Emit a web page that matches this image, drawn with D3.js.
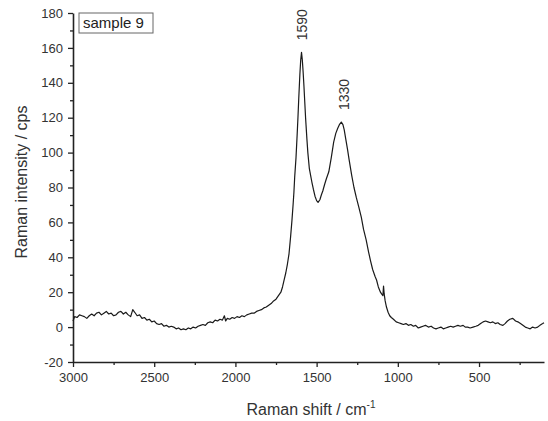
<!DOCTYPE html>
<html>
<head>
<meta charset="utf-8">
<script src="https://cdn.jsdelivr.net/npm/d3@7"></script>
<style>
  body { margin: 0; background: #fff; }
  svg { display: block; font-family: "Liberation Sans", Arial, sans-serif; }
</style>
</head>
<body>
<svg id="chart" width="548" height="421"></svg>
<script>
// Raman shift (cm-1) and intensity (cps)
const shift = [
  3000, 2990, 2975, 2960, 2945, 2930, 2915, 2900, 2885, 2870,
  2855, 2840, 2825, 2810, 2795, 2780, 2765, 2750, 2735, 2720,
  2705, 2690, 2675, 2660, 2645, 2632, 2620, 2605, 2590, 2575,
  2560, 2545, 2530, 2515, 2500, 2485, 2470, 2455, 2440, 2425,
  2410, 2395, 2380, 2365, 2350, 2335, 2320, 2305, 2290, 2275,
  2260, 2245, 2230, 2215, 2200, 2185, 2170, 2155, 2140, 2125,
  2110, 2095, 2080, 2068, 2060, 2050, 2035, 2020, 2005, 1990,
  1975, 1960, 1945, 1930, 1915, 1900, 1885, 1870, 1855, 1840,
  1825, 1810, 1795, 1780, 1765, 1750, 1735, 1720, 1710, 1700,
  1690, 1680, 1670, 1660, 1652, 1645, 1640, 1635, 1627, 1620,
  1615, 1610, 1603, 1598, 1593, 1588, 1583, 1578, 1573, 1568,
  1560, 1554, 1545, 1535, 1529, 1520, 1510, 1500, 1491, 1480,
  1470, 1462, 1450, 1440, 1425, 1410, 1395, 1382, 1370, 1360,
  1348, 1338, 1330, 1321, 1310, 1300, 1284, 1270, 1255, 1241,
  1225, 1211, 1195, 1180, 1168, 1155, 1140, 1131, 1120, 1107,
  1100, 1092, 1088, 1084, 1078, 1070, 1060, 1050, 1040, 1027,
  1010, 995, 980, 966, 950, 935, 920, 904, 890, 874,
  860, 845, 830, 812, 795, 780, 765, 751, 735, 720,
  705, 690, 675, 659, 645, 630, 615, 598, 585, 570,
  555, 537, 520, 505, 490, 475, 460, 445, 430, 415,
  400, 384, 370, 353, 340, 325, 310, 292, 275, 261,
  245, 230, 215, 200, 185, 170, 155, 139, 125, 108,
  100
];
const intensity = [
  3.5, 6, 5.5, 7, 6.5, 6, 5, 6.5, 7.5, 6.5,
  8, 8.5, 7, 8, 9, 7.5, 8, 6.5, 7, 8.5,
  9, 7.5, 8.5, 7, 6, 10, 8.5, 6.5, 7, 5,
  5.5, 4, 4.5, 3, 3.5, 2, 1.5, 2, 0.5, 1,
  0, 0.5, 0, -1, -0.5, -1.5, -1, -1.5, -0.5, -1,
  0, -0.5, 0.5, 1, 1.5, 1, 2.5, 3, 2.5, 4,
  3.5, 4.5, 4, 6.5, 3.5, 5, 4.5, 5.5, 5, 6,
  5.5, 6.5, 6, 7, 7.5, 8, 8, 9, 9.5, 10,
  11, 11.5, 12.5, 13.5, 15, 16, 18, 20, 23, 27,
  31, 36, 42, 52, 61, 70, 77, 86, 97, 110,
  120, 131, 145, 153, 157.5, 153, 146, 138, 129, 120,
  108, 100, 91, 86, 83, 79, 75, 72.5, 71.5, 73,
  76, 78, 82, 85, 89, 97, 106, 111, 114, 116,
  117.5, 116, 113, 108, 102, 96, 87, 80, 74, 69,
  63, 56, 50, 43, 38, 33, 29, 27, 23, 20,
  19, 18, 23.5, 19, 15, 11.5, 8.5, 6.5, 5.5, 4.5,
  3, 2.5, 2, 1.5, 2, 1, 1.5, 0.5, 1, -0.5,
  0, 0.5, 1, 0, 0.5, -0.5, -1, -0.5, 0, -1,
  -0.5, 0, 0.5, 0, 0.5, 1, 0.5, 1, 0, 0,
  -0.5, 0, 0.5, 1, 2, 3, 3.5, 3, 2.5, 3,
  2, 2.5, 1.5, 1, 2, 3.5, 4.5, 5, 3.5, 3,
  2, 1, 0, -0.5, -1, 0, -0.5, 0, 1, 2,
  2.5
];

const xTicks = [3000, 2500, 2000, 1500, 1000, 500];
const xMinor = [2750, 2250, 1750, 1250, 750, 250];
const yTicks = [-20, 0, 20, 40, 60, 80, 100, 120, 140, 160, 180];
const yMinor = [-10, 10, 30, 50, 70, 90, 110, 130, 150, 170];

const peakShifts = [1590, 1330];
const peakHeights = [157.5, 117.5];
const sampleName = "sample 9";

const svg = d3.select("#chart");
const mLeft = 73, mRight = 544, mTop = 13, mBottom = 362;

const x = d3.scaleLinear().domain([3000, 100]).range([mLeft, mRight]);
const y = d3.scaleLinear().domain([-20, 180]).range([mBottom, mTop]);

const ink = "#222";
const plain = d => String(d);   // no thousands comma, plain hyphen minus

// axes
svg.append("g")
  .attr("transform", "translate(0," + mBottom + ")")
  .call(d3.axisBottom(x).tickValues(xTicks).tickFormat(plain).tickSize(5).tickSizeOuter(0).tickPadding(6));
svg.append("g")
  .attr("transform", "translate(0," + mBottom + ")")
  .call(d3.axisBottom(x).tickValues(xMinor).tickSize(3).tickFormat(""))
  .call(g => g.select(".domain").remove());

svg.append("g")
  .attr("transform", "translate(" + mLeft + ",0)")
  .call(d3.axisLeft(y).tickValues(yTicks).tickFormat(plain).tickSize(5).tickSizeOuter(0).tickPadding(5));
svg.append("g")
  .attr("transform", "translate(" + mLeft + ",0)")
  .call(d3.axisLeft(y).tickValues(yMinor).tickSize(3).tickFormat(""))
  .call(g => g.select(".domain").remove());

svg.selectAll(".domain").attr("stroke", ink).attr("stroke-width", 1.6);
svg.selectAll(".tick line").attr("stroke", ink).attr("stroke-width", 1.3);
svg.selectAll(".tick text")
  .attr("fill", "#333")
  .style("font-size", "13px")
  .style("font-family", "'Liberation Sans', Arial, sans-serif");

// spectrum
const line = d3.line()
  .x(d => x(d[0]))
  .y(d => y(d[1]));

svg.append("path")
  .datum(d3.zip(shift, intensity))
  .attr("fill", "none")
  .attr("stroke", "#1a1a1a")
  .attr("stroke-width", 1.2)
  .attr("stroke-linejoin", "round")
  .attr("d", line);

// peak labels
svg.selectAll(".peak")
  .data(peakShifts)
  .enter()
  .append("text")
  .attr("class", "peak")
  .attr("transform", (d, i) => "translate(" + (x(d) + 5) + "," + (y(peakHeights[i]) - 12) + ") rotate(-90)")
  .attr("fill", "#333")
  .style("font-size", "14px")
  .text(d => d);

// sample box
svg.append("rect")
  .attr("x", 79).attr("y", 13)
  .attr("width", 74).attr("height", 20)
  .attr("fill", "#fff")
  .attr("stroke", "#666")
  .attr("stroke-width", 1);
svg.append("text")
  .attr("x", 83).attr("y", 28)
  .attr("fill", "#222")
  .style("font-size", "15px")
  .text(sampleName);

// axis titles
svg.append("text")
  .attr("transform", "translate(27,182) rotate(-90)")
  .attr("text-anchor", "middle")
  .attr("fill", "#333")
  .style("font-size", "16px")
  .text("Raman intensity / cps");

const xt = svg.append("text")
  .attr("x", 311).attr("y", 415)
  .attr("text-anchor", "middle")
  .attr("fill", "#333")
  .style("font-size", "16px")
  .text("Raman shift / cm");
xt.append("tspan")
  .attr("dy", -7)
  .style("font-size", "10px")
  .text("-1");
</script>
</body>
</html>
